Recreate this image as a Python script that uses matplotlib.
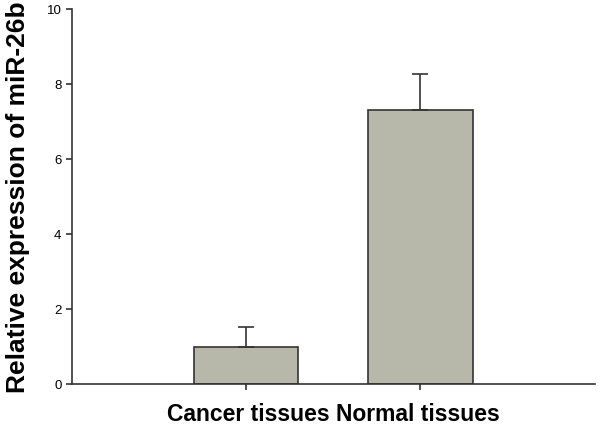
import matplotlib
matplotlib.use("Agg")
import matplotlib.pyplot as plt

categories = ["Cancer tissues", "Normal tissues"]
values = [1.0, 7.33]
errors = [0.53, 0.94]
yticks = [0, 2, 4, 6, 8, 10]

plt.rcParams['font.family'] = ['Liberation Sans', 'DejaVu Sans']

fig = plt.figure(figsize=(6, 4.28), dpi=100)
ax = fig.add_axes([0.1195, 0.102, 0.872, 0.876])

x = list(range(len(categories)))
ax.bar(x, values, width=0.6, color="#b7b7aa", edgecolor="#333333", linewidth=1.2, zorder=2)
ax.errorbar(x, values, yerr=[[0]*len(errors), errors], fmt="none", ecolor="#333333",
            elinewidth=1.2, capsize=5.5, capthick=1.2, zorder=3)

ax.set_xlim(-1, 2)
ax.set_ylim(0, 10)
ax.set_yticks(yticks)
ax.set_yticklabels([str(t) for t in yticks], fontsize=9.5)
ax.set_xticks(x)
ax.set_xticklabels([])
for s in ["top", "right"]:
    ax.spines[s].set_visible(False)
for s in ["left", "bottom"]:
    ax.spines[s].set_color("#333333")
    ax.spines[s].set_linewidth(1.2)
ax.tick_params(axis="both", direction="out", length=4.3, width=1.2, color="#333333", pad=3)

ax.set_xlabel(" ".join(categories), fontsize=16.5, fontweight="bold", labelpad=6)
ax.set_ylabel("Relative expression of miR-26b", fontsize=19, fontweight="bold", labelpad=12)

fig.savefig("out.png", dpi=100)
